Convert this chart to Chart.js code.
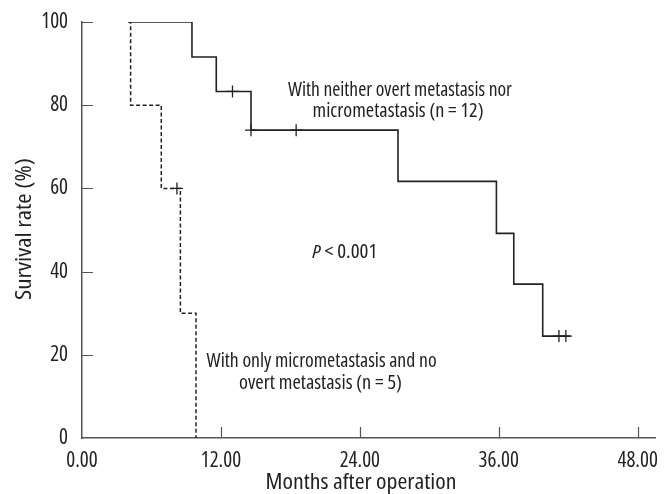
<!DOCTYPE html>
<html>
<head>
<meta charset="utf-8">
<script src="https://cdn.jsdelivr.net/npm/chart.js@4/dist/chart.umd.min.js"></script>
<style>
  html, body { margin: 0; padding: 0; background: #fff; }
  #wrap { width: 671px; height: 494px; position: relative; }
</style>
</head>
<body>
<div id="wrap"><canvas id="c"></canvas></div>
<script>
// ---- data ----
const noMetTimes     = [4, 9.5, 11.6, 14.6, 27.3, 35.8, 37.3, 39.8, 42.2];
const noMetSurvival  = [100, 91.6, 83.3, 74.0, 61.7, 49.2, 37.0, 24.5, 24.5];
const noMetCensorT   = [13.0, 14.6, 18.5, 41.2, 41.8];
const noMetCensorS   = [83.3, 74.0, 74.0, 24.5, 24.5];

const microTimes     = [4, 4.2, 6.85, 8.5, 9.85];
const microSurvival  = [100, 80, 60, 30, 0];
const microCensorT   = [8.2];
const microCensorS   = [60];

const xTicks = [0, 12, 24, 36, 48];
const yTicks = [0, 20, 40, 60, 80, 100];

const xTitle = 'Months after operation';
const yTitle = 'Survival rate (%)';
const upperNote = ['With neither overt metastasis nor', 'micrometastasis (n = 12)'];
const lowerNote = ['With only micrometastasis and no', 'overt metastasis (n = 5)'];

const FAMILY = "'Open Sans', 'Liberation Sans', sans-serif";
const INK = '#222222';
const AXIS = '#555555';

const pts = (xs, ys) => xs.map((x, i) => ({x: x, y: ys[i]}));

// text placement (data coordinates for anchors, target widths in px)
const notes = [
  {text: upperNote[0], x: 27.47, y: 82.2, w: 224},
  {text: upperNote[1], x: 27.3,  y: 77.2, w: 171},
  {text: lowerNote[0], x: 20.7,  y: 17.1, w: 230},
  {text: lowerNote[1], x: 20.6,  y: 11.8, w: 163}
];
const pLabel = {x: 22.7, y: 43.3, w: 65};

const ANN = "500 condensed 19px " + FAMILY;
const ANN_I = "italic 500 condensed 19px " + FAMILY;
const TITLE = "500 semi-condensed 21px " + FAMILY;

function fitText(ctx, text, cx, by, target, font) {
  ctx.font = font;
  const w = ctx.measureText(text).width;
  const s = target / w;
  ctx.save();
  ctx.translate(cx, by);
  ctx.scale(s, 1);
  ctx.textAlign = 'center';
  ctx.textBaseline = 'alphabetic';
  ctx.fillText(text, 0, 0);
  ctx.restore();
}

const decor = {
  id: 'decor',
  afterDraw(chart) {
    const {ctx, scales: {x, y}} = chart;
    ctx.save();
    // inward tick marks
    ctx.strokeStyle = AXIS;
    ctx.lineWidth = 1.2;
    ctx.beginPath();
    yTicks.forEach(v => {
      if (v === 0) return;
      const py = Math.round(y.getPixelForValue(v)) + 0.5;
      ctx.moveTo(x.left, py); ctx.lineTo(x.left + 11, py);
    });
    xTicks.forEach(v => {
      if (v === 0) return;
      const px = Math.round(x.getPixelForValue(v)) + 0.5;
      ctx.moveTo(px, y.bottom); ctx.lineTo(px, y.bottom - 11);
    });
    ctx.stroke();

    // annotations
    ctx.fillStyle = INK;
    notes.forEach(n => fitText(ctx, n.text, x.getPixelForValue(n.x), y.getPixelForValue(n.y), n.w, ANN));

    // P < 0.001 (italic P)
    const pcx = x.getPixelForValue(pLabel.x), pcy = y.getPixelForValue(pLabel.y);
    ctx.font = ANN_I;
    const w1 = ctx.measureText('P').width;
    ctx.font = ANN;
    const rest = ' < 0.001';
    const w2 = ctx.measureText(rest).width;
    const s = pLabel.w / (w1 + w2);
    ctx.save();
    ctx.translate(pcx - pLabel.w / 2, pcy);
    ctx.scale(s, 1);
    ctx.textAlign = 'left';
    ctx.textBaseline = 'alphabetic';
    ctx.font = ANN_I;
    ctx.fillText('P', 0, 0);
    ctx.font = ANN;
    ctx.fillText(rest, w1, 0);
    ctx.restore();

    // axis titles
    fitText(ctx, xTitle, 361, 489, 191, TITLE);
    ctx.save();
    ctx.translate(31, 229);
    ctx.rotate(-Math.PI / 2);
    fitText(ctx, yTitle, 0, 0, 142, TITLE);
    ctx.restore();
    ctx.restore();
  }
};

const tickFont = { family: FAMILY, size: 21, weight: '500 semi-condensed' };

new Chart(document.getElementById('c'), {
  type: 'line',
  data: {
    datasets: [
      {
        data: pts(noMetTimes, noMetSurvival),
        stepped: 'before',
        borderColor: INK, borderWidth: 1.6,
        pointRadius: 0, fill: false
      },
      {
        data: pts(microTimes, microSurvival),
        stepped: 'before',
        borderColor: INK, borderWidth: 1.5, borderDash: [4, 2.5],
        pointRadius: 0, fill: false
      },
      {
        data: pts(noMetCensorT, noMetCensorS),
        showLine: false,
        pointStyle: 'cross', pointRadius: 6, pointBorderWidth: 1.3,
        pointBorderColor: INK, pointBackgroundColor: INK
      },
      {
        data: pts(microCensorT, microCensorS),
        showLine: false,
        pointStyle: 'cross', pointRadius: 6, pointBorderWidth: 1.3,
        pointBorderColor: INK, pointBackgroundColor: INK
      }
    ]
  },
  options: {
    responsive: true,
    maintainAspectRatio: false,
    animation: false,
    events: [],
    layout: { padding: { top: 22, right: 16, left: 0, bottom: 0 } },
    plugins: { legend: { display: false }, tooltip: { enabled: false } },
    scales: {
      x: {
        type: 'linear', min: 0, max: 49.5,
        afterBuildTicks: s => { s.ticks = xTicks.map(v => ({value: v})); },
        afterFit: s => { s.height = 56; s.paddingLeft = 0; s.paddingRight = 0; },
        grid: { display: false, drawTicks: false },
        border: { display: true, color: AXIS, width: 1.5 },
        ticks: {
          color: INK, padding: 10,
          font: tickFont,
          callback: v => Number(v).toFixed(2),
          maxRotation: 0, autoSkip: false
        }
      },
      y: {
        type: 'linear', min: 0, max: 100,
        afterBuildTicks: s => { s.ticks = yTicks.map(v => ({value: v})); },
        afterFit: s => { s.width = 82; s.paddingTop = 0; s.paddingBottom = 0; },
        grid: { display: false, drawTicks: false },
        border: { display: true, color: AXIS, width: 1.5 },
        ticks: {
          color: INK, padding: 14,
          font: tickFont,
          autoSkip: false
        }
      }
    }
  },
  plugins: [decor]
});
</script>
</body>
</html>
